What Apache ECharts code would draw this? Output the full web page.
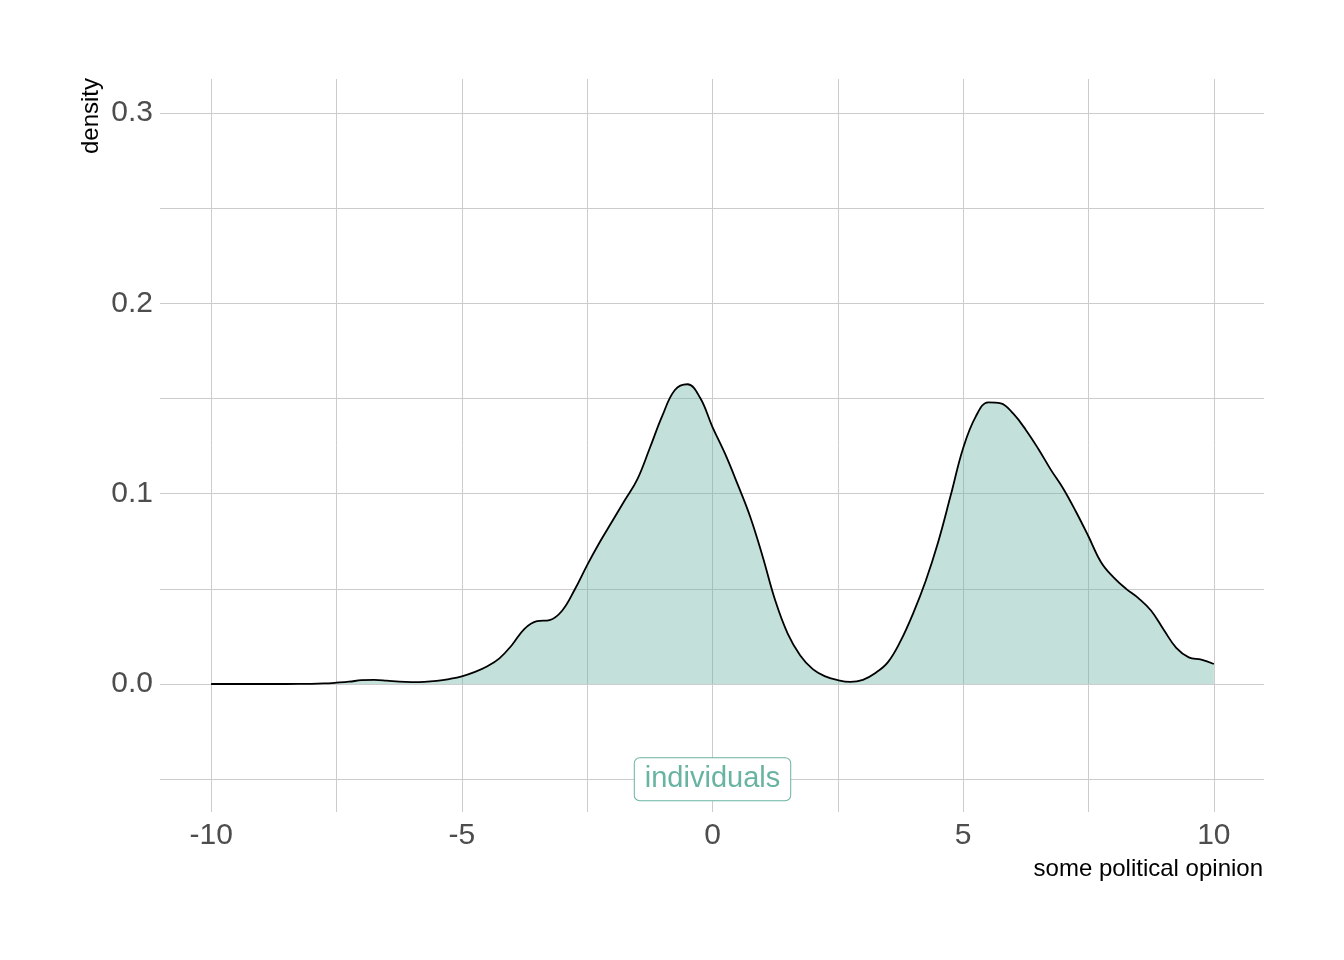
<!DOCTYPE html>
<html>
<head>
<meta charset="utf-8">
<script src="https://cdn.jsdelivr.net/npm/echarts@6/dist/echarts.min.js"></script>
<style>
  html, body { margin: 0; padding: 0; background: #ffffff; }
  #chart { width: 1344px; height: 960px; }
</style>
</head>
<body>
<div id="chart"></div>
<script>
// ---- data ----
var opinionX = [
  -10, -9.5, -9, -8.5, -8, -7.75, -7.5, -7.25, -7, -6.75, -6.5, -6.25, -6, -5.75, -5.5, -5.25,
  -5, -4.75, -4.5, -4.25, -4, -3.75, -3.5, -3.25, -3, -2.75, -2.5, -2.25, -2, -1.75, -1.5, -1.25,
  -1, -0.75, -0.5, -0.25, 0, 0.25, 0.5, 0.75, 1, 1.25, 1.5, 1.75, 2, 2.25, 2.5, 2.75,
  3, 3.25, 3.5, 3.75, 4, 4.25, 4.5, 4.75, 5, 5.25, 5.5, 5.75, 6, 6.25, 6.5, 6.75,
  7, 7.25, 7.5, 7.75, 8, 8.25, 8.5, 8.75, 9, 9.25, 9.5, 9.75, 10
];
var densityY = [
  0.0000, 0.0000, 0.0000, 0.0000, 0.0001, 0.0003, 0.0007, 0.0012, 0.0020, 0.0022, 0.0018, 0.0012, 0.0010, 0.0011, 0.0016, 0.0026,
  0.0040, 0.0062, 0.0092, 0.0135, 0.0205, 0.0290, 0.0330, 0.0336, 0.0385, 0.0495, 0.0625, 0.0745, 0.0855, 0.0965, 0.1075, 0.1240,
  0.1410, 0.1545, 0.1575, 0.1505, 0.1350, 0.1210, 0.1050, 0.0880, 0.0670, 0.0440, 0.0265, 0.0150, 0.0078, 0.0040, 0.0020, 0.0011,
  0.0022, 0.0058, 0.0115, 0.0225, 0.0370, 0.0540, 0.0745, 0.0990, 0.1240, 0.1405, 0.1480, 0.1475, 0.1420, 0.1335, 0.1235, 0.1125,
  0.1025, 0.0905, 0.0775, 0.0640, 0.0560, 0.0500, 0.0450, 0.0385, 0.0285, 0.0190, 0.0140, 0.0128, 0.0105
];
var xTickLabels = [-10, -5, 0, 5, 10];
var xGridValues = [-10, -7.5, -5, -2.5, 0, 2.5, 5, 7.5, 10];
var yTickLabels = [0, 0.1, 0.2, 0.3];
var yGridValues = [-0.05, 0, 0.05, 0.1, 0.15, 0.2, 0.25, 0.3];
var labelText = 'individuals';
var labelPoint = [0, -0.05];
var xTitle = 'some political opinion';
var yTitle = 'density';

var lineData = opinionX.map(function (x, i) { return [x, densityY[i]]; });

var chart = echarts.init(document.getElementById('chart'), null, { renderer: 'canvas' });
var FONT = 'Liberation Sans, Arial, sans-serif';
var gridStyle = { show: true, lineStyle: { color: '#cccccc', width: 1, type: 'solid' } };

chart.setOption({
  backgroundColor: '#ffffff',
  animation: false,
  grid: { left: 160, right: 80, top: 79, bottom: 148, containLabel: false },
  xAxis: {
    type: 'value',
    min: -11.02,
    max: 11.0,
    axisLine: { show: false },
    axisTick: { show: false, customValues: xGridValues },
    splitLine: gridStyle,
    axisLabel: {
      customValues: xTickLabels,
      color: '#4d4d4d',
      fontSize: 30,
      fontFamily: FONT,
      margin: 9,
      formatter: function (v) { return String(v); }
    }
  },
  yAxis: {
    type: 'value',
    min: -0.06725,
    max: 0.31787,
    axisLine: { show: false },
    axisTick: { show: false, customValues: yGridValues },
    splitLine: gridStyle,
    axisLabel: {
      customValues: yTickLabels,
      color: '#4d4d4d',
      fontSize: 30,
      fontFamily: FONT,
      margin: 7,
      padding: [7, 0, 0, 0],
      formatter: function (v) { return v.toFixed(1); }
    }
  },
  series: [
    {
      type: 'line',
      data: lineData,
      smooth: 0.4,
      symbol: 'none',
      lineStyle: { color: '#000000', width: 1.8 },
      areaStyle: { color: '#69b3a2', opacity: 0.4, origin: 'auto' },
      z: 2
    },
    {
      type: 'scatter',
      data: [labelPoint],
      symbolSize: 0,
      itemStyle: { opacity: 1 },
      z: 5,
      label: {
        show: true,
        position: 'inside',
        formatter: labelText,
        color: '#69b3a2',
        fontSize: 29,
        lineHeight: 29,
        fontFamily: FONT,
        backgroundColor: '#ffffff',
        borderColor: '#69b3a2',
        borderWidth: 1,
        borderRadius: 5,
        padding: [8, 10, 5, 10]
      }
    }
  ],
  graphic: [
    {
      type: 'text',
      x: 1263,
      y: 869,
      style: {
        text: xTitle,
        fill: '#000000',
        font: '24px ' + FONT,
        textAlign: 'right',
        textVerticalAlign: 'middle'
      }
    },
    {
      type: 'text',
      x: 91,
      y: 116,
      rotation: Math.PI / 2,
      style: {
        text: yTitle,
        fill: '#000000',
        font: '24px ' + FONT,
        textAlign: 'center',
        textVerticalAlign: 'middle'
      }
    }
  ]
});
</script>
</body>
</html>
